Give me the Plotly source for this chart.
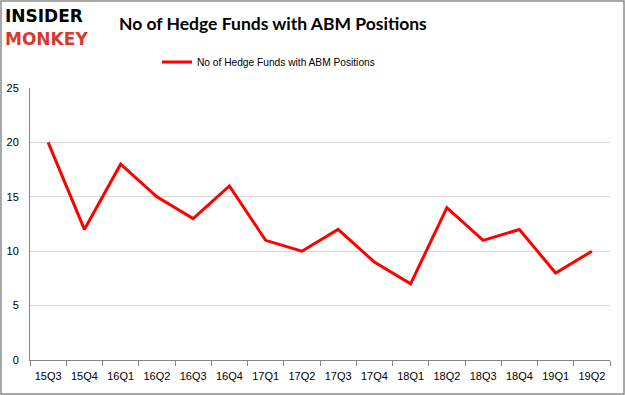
import plotly.graph_objects as go

quarters = ["15Q3", "15Q4", "16Q1", "16Q2", "16Q3", "16Q4", "17Q1", "17Q2",
            "17Q3", "17Q4", "18Q1", "18Q2", "18Q3", "18Q4", "19Q1", "19Q2"]
hedge_funds = [20, 12, 18, 15, 13, 16, 11, 10, 12, 9, 7, 14, 11, 12, 8, 10]
series_name = "No of Hedge Funds with ABM Positions"
y_ticks = [0, 5, 10, 15, 20, 25]

W, H = 625, 395
L, R, T, B = 30, 15, 88, 35
PW, PH = W - L - R, H - T - B

def px(x):
    return (x - L) / PW

def py(y):
    return (H - B - y) / PH

fig = go.Figure()
fig.add_trace(go.Scatter(x=quarters, y=hedge_funds, mode="lines", name=series_name,
                         line=dict(color="#ff0000", width=3)))

fig.update_layout(
    width=W, height=H,
    margin=dict(l=L, r=R, t=T, b=B, autoexpand=False),
    paper_bgcolor="white", plot_bgcolor="white",
    font=dict(family="Liberation Sans", size=11, color="black"),
    showlegend=True,
    legend=dict(orientation="h", x=px(157), xanchor="left", y=py(62), yanchor="middle",
                font=dict(size=10.2, family="Liberation Sans"), itemwidth=30,
                bgcolor="rgba(0,0,0,0)"),
    xaxis=dict(showgrid=False, showline=True, linecolor="#868686", linewidth=1,
               ticks="outside", tickson="boundaries", ticklen=5, tickcolor="#868686",
               tickfont=dict(size=11), tickangle=0, range=[-0.5, 15.5], automargin=False,
               ticklabelstandoff=6),
    yaxis=dict(range=[0, 25], tickvals=y_ticks, showgrid=True, gridcolor="#d9d9d9",
               showline=True, linecolor="#868686", zeroline=False,
               tickfont=dict(size=11), ticks="", ticklabelstandoff=8, automargin=False),
    shapes=[dict(type="rect", xref="paper", yref="paper", x0=px(1), x1=px(W - 1),
                 y0=py(H - 1), y1=py(1), line=dict(color="#8c8c8c", width=1.5))],
    annotations=[
        dict(text="<b>No of Hedge Funds with ABM Positions</b>", xref="paper", yref="paper",
             x=px(117), y=py(24), xanchor="left", yanchor="middle", showarrow=False,
             font=dict(family="Lato", size=17.5, color="black")),
        dict(text="<b>INSIDER</b>", xref="paper", yref="paper", x=px(3), y=py(16),
             xanchor="left", yanchor="middle", showarrow=False,
             font=dict(family="DejaVu Sans", size=17, color="black")),
        dict(text="<b>MONKEY</b>", xref="paper", yref="paper", x=px(3), y=py(39),
             xanchor="left", yanchor="middle", showarrow=False,
             font=dict(family="DejaVu Sans", size=17, color="#d9392b")),
    ],
)

fig.write_html("out.html", config={"displayModeBar": False},
               post_script="document.body.style.margin='0';")
